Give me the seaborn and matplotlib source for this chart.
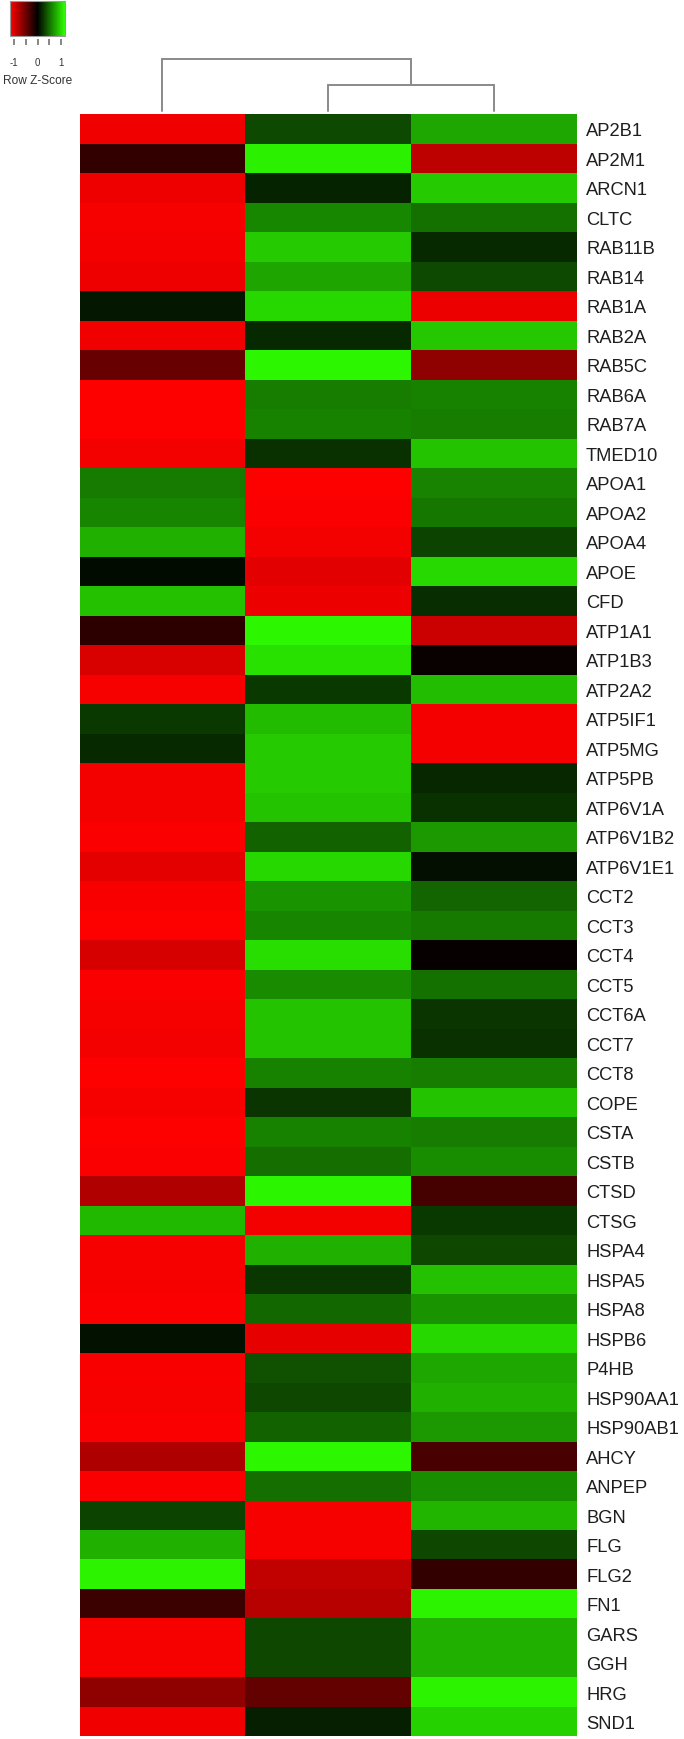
import numpy as np
import pandas as pd
import matplotlib
matplotlib.use("Agg")
import matplotlib.pyplot as plt
from matplotlib.colors import LinearSegmentedColormap
import seaborn as sns

# ---------------- data (row z-scores) ----------------
genes = ["AP2B1", "AP2M1", "ARCN1", "CLTC", "RAB11B", "RAB14", "RAB1A", "RAB2A",
         "RAB5C", "RAB6A", "RAB7A", "TMED10", "APOA1", "APOA2", "APOA4", "APOE",
         "CFD", "ATP1A1", "ATP1B3", "ATP2A2", "ATP5IF1", "ATP5MG", "ATP5PB",
         "ATP6V1A", "ATP6V1B2", "ATP6V1E1", "CCT2", "CCT3", "CCT4", "CCT5",
         "CCT6A", "CCT7", "CCT8", "COPE", "CSTA", "CSTB", "CTSD", "CTSG",
         "HSPA4", "HSPA5", "HSPA8", "HSPB6", "P4HB", "HSP90AA1", "HSP90AB1",
         "AHCY", "ANPEP", "BGN", "FLG", "FLG2", "FN1", "GARS", "GGH", "HRG", "SND1"]

sample_1 = [-1.09, -0.23, -1.08, -1.12, -1.11, -1.08, 0.10, -1.09, -0.47, -1.15,
            -1.15, -1.10, 0.56, 0.60, 0.80, 0.05, 0.87, -0.20, -0.98, -1.12,
            0.26, 0.19, -1.10, -1.10, -1.14, -1.04, -1.13, -1.15, -0.97, -1.14,
            -1.12, -1.10, -1.15, -1.12, -1.15, -1.14, -0.80, 0.84, -1.12, -1.12,
            -1.14, 0.08, -1.13, -1.12, -1.14, -0.79, -1.14, 0.30, 0.80, 1.10,
            -0.27, -1.12, -1.12, -0.65, -1.09]
sample_2 = [0.33, 1.09, 0.16, 0.61, 0.92, 0.75, 0.97, 0.19, 1.12, 0.57,
            0.58, 0.22, -1.15, -1.14, -1.10, -1.03, -1.07, 1.12, 1.02, 0.26,
            0.85, 0.92, 0.92, 0.88, 0.45, 0.97, 0.67, 0.60, 1.00, 0.63,
            0.88, 0.88, 0.58, 0.24, 0.58, 0.50, 1.11, -1.10, 0.80, 0.25,
            0.47, -1.05, 0.37, 0.32, 0.45, 1.12, 0.50, -1.12, -1.12, -0.87,
            -0.83, 0.32, 0.32, -0.45, 0.14]
sample_3 = [0.76, -0.86, 0.92, 0.51, 0.19, 0.33, -1.07, 0.90, -0.65, 0.58,
            0.57, 0.88, 0.59, 0.54, 0.30, 0.98, 0.20, -0.92, -0.04, 0.86,
            -1.11, -1.11, 0.18, 0.22, 0.69, 0.07, 0.46, 0.55, -0.03, 0.51,
            0.24, 0.22, 0.57, 0.88, 0.57, 0.64, -0.31, 0.26, 0.32, 0.87,
            0.67, 0.97, 0.76, 0.80, 0.69, -0.33, 0.64, 0.82, 0.32, -0.23,
            1.10, 0.80, 0.80, 1.10, 0.95]

samples = ["sample_1", "sample_2", "sample_3"]
# column dendrogram: (left member, right member, merge height)
dendro_links = [("sample_2", "sample_3", 0.5), ("sample_1", "node_1", 1.0)]

legend_ticks = [-1, -0.5, 0, 0.5, 1]
legend_ticklabels = ["-1", "", "0", "", "1"]

df = pd.DataFrame({"sample_1": sample_1, "sample_2": sample_2,
                   "sample_3": sample_3}, index=genes)

# ---------------- styling ----------------
sns.set_style("white")
plt.rcParams["font.family"] = ["Liberation Sans", "DejaVu Sans"]

cmap = LinearSegmentedColormap.from_list(
    "redblackgreen", [(1.0, 0.0, 0.0), (0.0, 0.0, 0.0), (0.18, 1.0, 0.0)], N=256)

W, H = 684, 1740
fig = plt.figure(figsize=(W / 100, H / 100), dpi=100)

def frac(x0, y0, x1, y1):
    return [x0 / W, 1 - y1 / H, (x1 - x0) / W, (y1 - y0) / H]

ax = fig.add_axes(frac(79.5, 115, 577, 1737.5))
cax = fig.add_axes(frac(10, 2, 65, 37))
dax = fig.add_axes(frac(79.5, 60, 577, 112))

sns.heatmap(df, ax=ax, cmap=cmap, vmin=-1.16, vmax=1.16, linewidths=0,
            xticklabels=False, yticklabels=genes, cbar_ax=cax,
            cbar_kws={"orientation": "horizontal", "ticks": legend_ticks})

ax.yaxis.tick_right()
ax.tick_params(axis="y", length=0, pad=6.5, labelsize=13.2,
               labelcolor="#1e1e1e", rotation=0)
ax.set_xlabel("")
ax.set_ylabel("")

# legend colour key
cbar = ax.collections[0].colorbar
cbar.outline.set_edgecolor("#9a9a9a")
cbar.outline.set_linewidth(0.8)
cbar.set_ticks(legend_ticks)
cbar.set_ticklabels(legend_ticklabels)
cax.xaxis.set_ticks_position("bottom")
cax.spines["bottom"].set_position(("outward", 2.2))
cax.tick_params(axis="x", direction="out", length=4, width=1.1,
                color="#666666", pad=9, labelsize=7, labelcolor="#333333")
fig.text(37.5 / W, 1 - 81.5 / H, "Row Z-Score", ha="center", va="center",
         fontsize=8.6, color="#333333")

# column dendrogram
pos = {s: i + 0.5 for i, s in enumerate(samples)}
hgt = {s: 0.0 for s in samples}
for k, (a, b, h) in enumerate(dendro_links, start=1):
    xa, xb = pos[a], pos[b]
    dax.plot([xa, xa, xb, xb], [hgt[a], h, h, hgt[b]], color="#8a8a8a",
             lw=1.4, solid_joinstyle="miter", clip_on=False)
    pos[f"node_{k}"] = (xa + xb) / 2
    hgt[f"node_{k}"] = h
dax.set_xlim(0, len(samples))
dax.set_ylim(0, max(l[2] for l in dendro_links))
dax.axis("off")

fig.savefig("out.png", dpi=100)
